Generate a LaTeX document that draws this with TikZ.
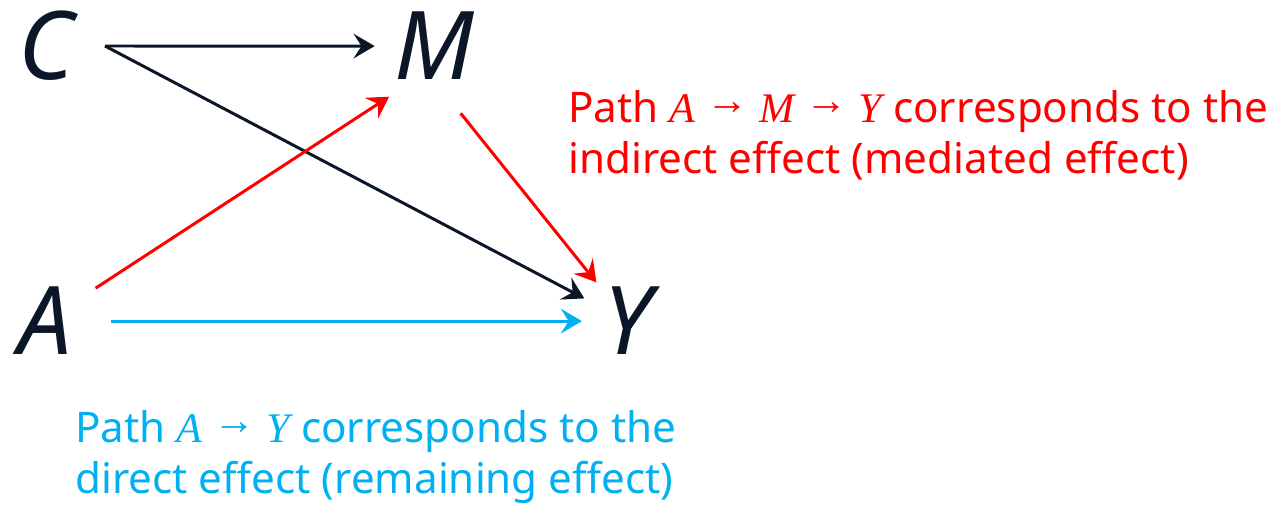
\documentclass[tikz,border=0pt]{standalone}
\usepackage{fontspec}
\setmainfont{Noto Sans}
\newfontfamily\symbfont{Liberation Serif}
\usetikzlibrary{arrows.meta,calc}

\definecolor{ink}{HTML}{0B1628}
\definecolor{pathred}{HTML}{FF0000}
\definecolor{pathblue}{HTML}{00B0F0}

\newcommand{\sym}[1]{{\symbfont\itshape #1}}
\newcommand{\goesto}{ \raisebox{4.5pt}{\symbfont →} }

\tikzset{
  var/.style={font=\fontsize{54}{60}\selectfont\itshape, text=ink, inner sep=0pt, anchor=base west},
  note/.style={font=\fontsize{24}{29.5}\selectfont, align=left, inner sep=0pt, anchor=base west},
  link/.style={line width=1.7pt, -{Stealth[length=12pt,width=14pt,inset=4.5pt]}},
}

\begin{document}
\begin{tikzpicture}[x=0.02cm,y=-0.02cm]
    \useasboundingbox (0,0) rectangle (1279,506);
    % the four variables
    \node[var] (C) at (18,80) {C};
    \node[var] (M) at (394,80) {M};
    \node[var] (A) at (18,355) {A};
    \node[var] (Y) at (603,355) {Y};
    \coordinate (Cout) at (105,46);

    % paths
    \draw[link, ink, shorten >=11pt] (Cout) -- (M);
    \draw[link, ink, shorten >=12pt] (Cout) -- (Y);
    \draw[link, pathred, shorten <=16pt, shorten >=17pt] (A) -- ($(M.south west)!0.5!(M.south)$);
    \draw[link, pathred, shorten <=24pt, shorten >=6pt] (M.south) -- (Y);
    \draw[link, pathblue, shorten <=22pt, shorten >=12pt] (A) -- (Y);

    % notes
    \node[note, text=pathred] (indirect) at (568,174)
      {Path \sym{A}\goesto\sym{M}\goesto\sym{Y} corresponds to the\\indirect effect (mediated effect)};
    \node[note, text=pathblue] (direct) at (75,494)
      {Path \sym{A}\goesto\sym{Y} corresponds to the\\direct effect (remaining effect)};
\end{tikzpicture}
\end{document}
